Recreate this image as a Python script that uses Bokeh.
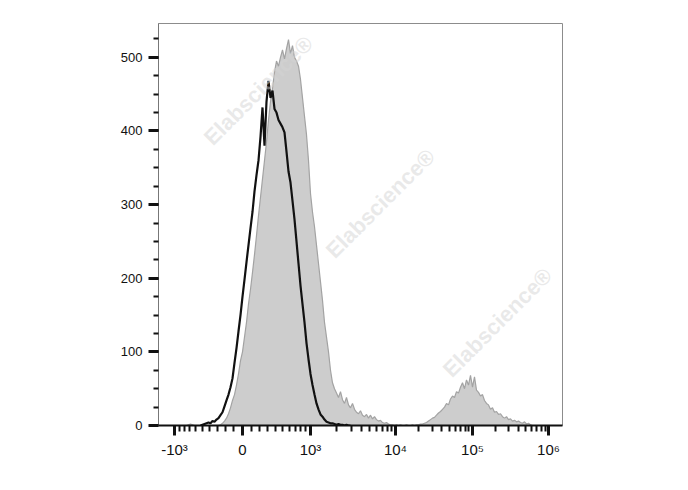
import numpy as np
from bokeh.plotting import figure
from bokeh.models import Range1d, FixedTicker, SingleIntervalTicker, Label
from bokeh.embed import file_html
from bokeh.resources import INLINE

# ---------------- data ----------------
# Histogram bins on the display (channel) scale; bins are 2 channels wide
BIN_STEP = 2
gray_first_channel = 28
gray_counts = [0, 1, 2, 1, 0, 0, 0, 0, 0, 0, 0, 0, 0, 0, 0, 0, 0, 1, 3, 6,
               10, 16, 24, 34, 42, 55, 70, 88, 100, 120, 140, 165, 185, 208, 232, 258,
               285, 310, 335, 360, 385, 415, 440, 458, 480, 495, 488, 500, 510, 498,
               512, 524, 505, 516, 500, 495, 488, 470, 445, 420, 395, 360, 315, 290,
               270, 245, 220, 195, 170, 140, 120, 100, 75, 58, 50, 44, 38, 46, 35, 30,
               38, 28, 24, 30, 22, 18, 16, 20, 14, 12, 15, 10, 14, 9, 12, 8, 6, 7, 4, 3,
               4, 2, 1, 1, 0, 1, 0, 1, 0, 0, 1, 0, 0, 1, 0, 1, 1, 2, 2, 3, 4, 6, 8, 10,
               11, 14, 17, 19, 22, 25, 30, 28, 36, 40, 38, 46, 44, 52, 58, 50, 62, 55,
               68, 52, 66, 48, 45, 40, 42, 34, 30, 28, 22, 24, 18, 19, 15, 16, 12, 10,
               12, 8, 9, 6, 7, 5, 6, 4, 3, 5, 2, 3, 1, 0, 0]

black_first_channel = 42
black_counts = [0, 1, 2, 3, 4, 3, 6, 5, 8, 10, 14, 18, 26, 34, 42, 52, 64, 85, 105,
                128, 150, 175, 198, 222, 245, 268, 290, 318, 340, 360, 392, 432, 380,
                440, 468, 445, 455, 430, 425, 415, 410, 405, 398, 372, 345, 330, 305,
                280, 250, 220, 190, 165, 140, 112, 90, 70, 55, 42, 30, 22, 15, 12, 8,
                5, 4, 3, 3, 2, 1, 2, 1, 1, 0, 1, 0, 0]

x_major_values = [-1000, 0, 1000, 10000, 100000, 1000000]
x_major_labels = ["-10\u00b3", "0", "10\u00b3", "10\u2074", "10\u2075", "10\u2076"]
x_minor_values = ([-100 * k for k in range(1, 10)] + [100 * k for k in range(1, 10)]
                  + [m * 10 ** e for e in (3, 4, 5) for m in range(2, 10)])

y_max = 546
watermark_text = "Elabscience\u00ae"
# approximate centres (in frame pixels from its top-left) of the watermarks that lie inside the frame
watermark_frame_px = [(100, 67), (222, 180), (339, 299)]

# ---------------- biexponential-like display scale ----------------
def to_channel(v):
    v = np.asarray(v, dtype=float)
    a = 68.0 / np.arcsinh(1000.0 / 600.0)
    lin = a * np.arcsinh(v / 600.0)
    av = np.abs(v)
    logpart = 68.0 + np.interp(np.log10(np.maximum(av, 1000.0)),
                               [3, 4, 5, 6], [0, 85, 162, 238])
    return np.where(av <= 1000, lin, np.sign(v) * logpart) + 84.0

gray_x = gray_first_channel + BIN_STEP * np.arange(len(gray_counts))
black_x = black_first_channel + BIN_STEP * np.arange(len(black_counts))

major_pos = [round(float(c), 3) for c in to_channel(x_major_values)]
minor_pos = [round(float(c), 3) for c in to_channel(x_minor_values)]

# ---------------- figure ----------------
p = figure(width=672, height=474, output_backend="svg", toolbar_location=None,
           x_range=Range1d(0, 404), y_range=Range1d(0, y_max),
           min_border_left=158, min_border_right=110,
           min_border_top=23, min_border_bottom=49)
p.background_fill_color = "white"
p.border_fill_color = "white"
p.outline_line_color = "#8c8c8c"
p.outline_line_width = 1
p.xgrid.visible = False
p.ygrid.visible = False

p.varea(x=gray_x, y1=0, y2=gray_counts, fill_color="#cdcdcd")
p.line(gray_x, gray_counts, line_color="#a3a3a3", line_width=1.2)
p.line(black_x, black_counts, line_color="#111111", line_width=2.2)

# x axis
xa = p.xaxis[0]
xa.ticker = FixedTicker(ticks=major_pos, minor_ticks=minor_pos)
xa.major_label_overrides = {pos: lab for pos, lab in zip(major_pos, x_major_labels)}
xa.axis_line_color = "#111111"
xa.axis_line_width = 2
xa.major_tick_in = 0
xa.major_tick_out = 10
xa.major_tick_line_width = 3
xa.major_tick_line_color = "#111111"
xa.minor_tick_in = 0
xa.minor_tick_out = 6
xa.minor_tick_line_width = 2
xa.minor_tick_line_color = "#111111"
xa.major_label_text_font = "Liberation Sans"
xa.major_label_text_font_size = "15px"
xa.major_label_text_color = "#111111"
xa.major_label_standoff = 5

# y axis
ya = p.yaxis[0]
ya.ticker = SingleIntervalTicker(interval=100, num_minor_ticks=4)
ya.axis_line_color = "#777777"
ya.axis_line_width = 1
ya.major_tick_in = 0
ya.major_tick_out = 10
ya.major_tick_line_width = 3
ya.major_tick_line_color = "#111111"
ya.minor_tick_in = 0
ya.minor_tick_out = 5
ya.minor_tick_line_width = 2
ya.minor_tick_line_color = "#111111"
ya.major_label_text_font = "Liberation Sans"
ya.major_label_text_font_size = "13px"
ya.major_label_text_color = "#111111"
ya.major_label_standoff = 6

# faint watermark (only the copies that sit wholly inside the frame)
sy = y_max / 402.0
for (wx, wy) in watermark_frame_px:
    p.add_layout(Label(x=wx, y=(402 - wy) * sy, text=watermark_text,
                       angle=45, angle_units="deg", text_align="center",
                       text_baseline="middle", text_font="Liberation Sans",
                       text_font_style="bold", text_font_size="22px",
                       text_color="#d4d4d4", text_alpha=0.5))

open("out.html", "w").write(file_html(p, INLINE))
